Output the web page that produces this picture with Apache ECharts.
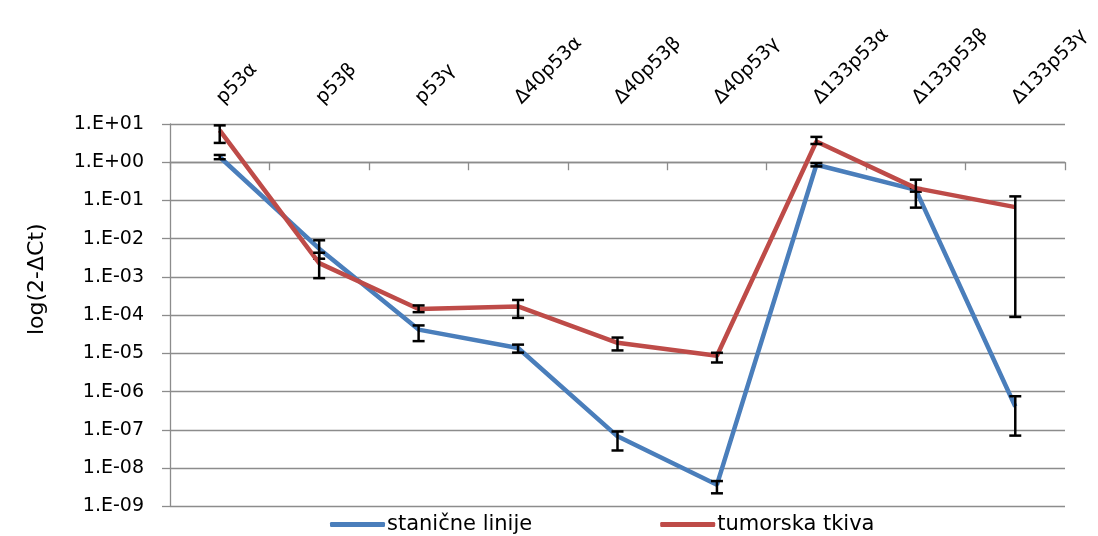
<!DOCTYPE html>
<html>
<head>
<meta charset="utf-8">
<script src="https://cdn.jsdelivr.net/npm/echarts@6/dist/echarts.min.js"></script>
<style>
html,body{margin:0;padding:0;background:#fff;}
#chart{width:1098px;height:536px;}
</style>
</head>
<body>
<div id="chart"></div>
<script>
const categories = ['p53α','p53β','p53γ','Δ40p53α','Δ40p53β','Δ40p53γ','Δ133p53α','Δ133p53β','Δ133p53γ'];
const seriesNames = ['stanične linije','tumorska tkiva'];
const blueValues = [1.37, 5.5e-3, 4.2e-5, 1.39e-5, 6.8e-8, 3.7e-9, 0.86, 0.19, 4.1e-7];
const blueLow    = [1.2, 3.0e-3, 2.1e-5, 1.05e-5, 2.9e-8, 2.2e-9, 0.78, 0.17, 7.1e-8];
const blueHigh   = [1.55, 9.1e-3, 5.4e-5, 1.7e-5, 9.1e-8, 4.6e-9, 0.95, 0.21, 7.6e-7];
const redValues  = [6.8, 2.3e-3, 1.45e-4, 1.7e-4, 1.9e-5, 8.7e-6, 3.5, 0.21, 0.067];
const redLow     = [3.2, 9.3e-4, 1.2e-4, 8.5e-5, 1.2e-5, 5.8e-6, 3.0, 0.065, 9e-5];
const redHigh    = [9.2, 4.3e-3, 1.8e-4, 2.5e-4, 2.6e-5, 1.04e-5, 4.6, 0.35, 0.128];

const FONT = '"DejaVu Sans", sans-serif';
function fmtLog(v){
  const e = Math.round(Math.log10(v));
  const s = e < 0 ? '-' : '+';
  const a = Math.abs(e);
  return '1.E' + s + (a < 10 ? '0' + a : '' + a);
}
function errData(lo, hi){ return lo.map((l,i)=>[i, l, hi[i]]); }
function renderErr(params, api){
  const lo = api.coord([api.value(0), api.value(1)]);
  const hi = api.coord([api.value(0), api.value(2)]);
  const w = 6;
  const st = {stroke:'#000', lineWidth:2.5};
  return {type:'group', children:[
    {type:'line', shape:{x1:lo[0],y1:lo[1],x2:hi[0],y2:hi[1]}, style:st},
    {type:'line', shape:{x1:lo[0]-w,y1:lo[1],x2:lo[0]+w,y2:lo[1]}, style:st},
    {type:'line', shape:{x1:hi[0]-w,y1:hi[1],x2:hi[0]+w,y2:hi[1]}, style:st}
  ]};
}

const chart = echarts.init(document.getElementById('chart'));
const gridColor = '#8c8c8c';
chart.setOption({
  animation:false,
  backgroundColor:'#fff',
  textStyle:{fontFamily:FONT},
  legend:{
    data:seriesNames, top:514, left:330, padding:0, icon:'roundRect',
    itemWidth:55, itemHeight:5, itemGap:128,
    textStyle:{fontSize:21, color:'#000', fontFamily:FONT, padding:[0,0,0,-3]}
  },
  grid:[
    {left:170, right:33, top:124, height:382.4, containLabel:false},
    {left:170, right:33, top:124, height:38.24, containLabel:false}
  ],
  xAxis:[
    {type:'category', gridIndex:0, data:categories, position:'top', boundaryGap:true,
     axisLine:{show:false}, axisTick:{show:false},
     axisLabel:{rotate:-45, fontSize:19, color:'#000', margin:23, fontFamily:FONT}},
    {type:'category', gridIndex:1, data:categories, position:'bottom', boundaryGap:true,
     axisLine:{show:true, lineStyle:{color:gridColor, width:1.3}},
     axisTick:{show:true, length:8, lineStyle:{color:gridColor, width:1.3}},
     axisLabel:{show:false}}
  ],
  yAxis:[
    {type:'log', gridIndex:0, logBase:10, min:1e-9, max:10, interval:1,
     name:'log(2-ΔCt)', nameLocation:'middle', nameRotate:90, nameGap:122,
     nameTextStyle:{fontSize:22, color:'#000', fontFamily:FONT, padding:[0,0,0,72]},
     axisLine:{show:true, lineStyle:{color:gridColor, width:1.3}},
     axisTick:{show:true, length:8, lineStyle:{color:gridColor, width:1.3}},
     axisLabel:{formatter:fmtLog, fontSize:19, color:'#000', margin:26, fontFamily:FONT},
     splitLine:{show:true, lineStyle:{color:gridColor, width:1.3}}},
    {type:'value', gridIndex:1, show:false, min:0, max:1}
  ],
  series:[
    {name:seriesNames[0], type:'line', xAxisIndex:0, yAxisIndex:0, data:blueValues,
     symbol:'none', lineStyle:{color:'#4a7ebb', width:4.5}, itemStyle:{color:'#4a7ebb'}, z:3},
    {name:'errBlue', type:'custom', xAxisIndex:0, yAxisIndex:0, data:errData(blueLow, blueHigh),
     renderItem:renderErr, z:4, silent:true},
    {name:seriesNames[1], type:'line', xAxisIndex:0, yAxisIndex:0, data:redValues,
     symbol:'none', lineStyle:{color:'#be4b48', width:4.5}, itemStyle:{color:'#be4b48'}, z:5},
    {name:'errRed', type:'custom', xAxisIndex:0, yAxisIndex:0, data:errData(redLow, redHigh),
     renderItem:renderErr, z:6, silent:true}
  ]
});
</script>
</body>
</html>
